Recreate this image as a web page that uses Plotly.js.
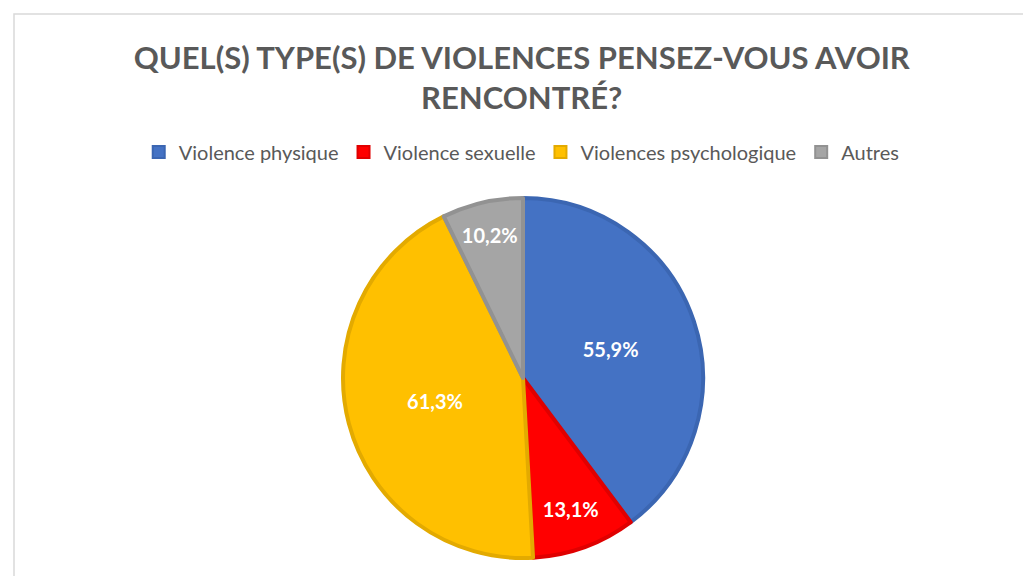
<!DOCTYPE html>
<html><head><meta charset="utf-8">
<script src="https://cdn.plot.ly/plotly-3.0.1.min.js"></script>
<style>html,body{margin:0;padding:0;background:#fff}#chart{width:1023px;height:576px}</style>
</head><body><div id="chart"></div>
<script>
const categories = ["Violence physique", "Violence sexuelle", "Violences psychologique", "Autres"];
const values = [55.9, 13.1, 61.3, 10.2];
const valueLabels = ["55,9%", "13,1%", "61,3%", "10,2%"];
const colors = ["#4472C4", "#FF0000", "#FFC000", "#A5A5A5"];
const borderColors = ["#3B66B2", "#E00000", "#E3AA00", "#929292"];

const W = 1023, H = 576;
const cx = 523, cy = 378, r = 180;

const trace = {
  type: "pie",
  labels: categories,
  values: values,
  text: valueLabels,
  texttemplate: "%{text}",
  textinfo: "text",
  textposition: "inside",
  insidetextorientation: "horizontal",
  textfont: {family: "Lato, 'Open Sans', sans-serif", size: 20, color: "#FFFFFF", weight: "bold"},
  sort: false,
  direction: "clockwise",
  rotation: 0,
  marker: {colors: colors, line: {color: borderColors, width: 4}},
  domain: {x: [(cx - r) / W, (cx + r) / W], y: [(H - cy - r) / H, (H - cy + r) / H]},
  hoverinfo: "label+text"
};

const layout = {
  width: W, height: H,
  margin: {l: 0, r: 0, t: 0, b: 0},
  paper_bgcolor: "#FFFFFF",
  title: {
    text: "<b>QUEL(S) TYPE(S) DE VIOLENCES PENSEZ-VOUS AVOIR<br>RENCONTRÉ?</b>",
    font: {family: "Lato, 'Open Sans', sans-serif", size: 31, color: "#595959"},
    x: 0.51, xanchor: "center", y: 1 - 69 / H, yanchor: "middle", yref: "paper"
  },
  showlegend: true,
  legend: {
    orientation: "h", x: 0.51, xanchor: "center", y: 1 - 152 / H, yanchor: "middle",
    font: {family: "Lato, 'Open Sans', sans-serif", size: 20, color: "#595959"},
    traceorder: "normal", itemwidth: 30, itemsizing: "constant"
  },
  shapes: [{
    type: "rect", xref: "paper", yref: "paper",
    x0: 14 / W, x1: 1.05, y0: -0.05, y1: 1 - 14 / H,
    line: {color: "#D9D9D9", width: 1.5}, fillcolor: "rgba(0,0,0,0)", layer: "below"
  }]
};

Plotly.newPlot("chart", [trace], layout, {displayModeBar: false, staticPlot: true});
</script></body></html>
